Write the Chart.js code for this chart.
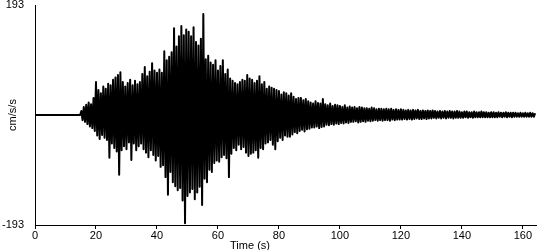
<!DOCTYPE html>
<html>
<head>
<meta charset="utf-8">
<script src="https://cdn.jsdelivr.net/npm/chart.js@4.4.0/dist/chart.umd.min.js"></script>
<style>
html,body{margin:0;padding:0;background:#fff;}
</style>
</head>
<body>
<canvas id="c" width="550" height="250"></canvas>
<script>
// accelerogram: one sample every 0.4 s from 14.8 s
const sampleStart = 14.8;
const sampleStep = 0.4;
const accel = [0,
  7,-9,14,-12,18,-16,22,-20,19,-23,
  30,-28,58,-36,44,-42,38,-35,50,-40,
  46,-44,55,-75,52,-50,62,-58,66,-64,
  70,-105,75,-62,58,-55,50,-60,56,-48,
  62,-79,52,-50,60,-62,54,-55,58,-50,
  72,-60,84,-66,68,-74,76,-62,91,-70,
  78,-80,74,-72,80,-91,74,-88,112,-109,
  96,-140,102,-100,110,-118,152,-125,120,-132,
  138,-128,156,-150,140,-190,150,-142,146,-136,
  138,-130,154,-148,128,-136,122,-126,134,-158,
  177,-112,98,-118,104,-96,92,-100,88,-84,
  96,-80,78,-82,86,-74,96,-70,72,-76,
  80,-109,64,-68,60,-58,56,-62,54,-52,
  58,-60,62,-56,60,-66,70,-72,64,-68,
  62,-66,56,-62,60,-75,68,-58,54,-60,
  58,-50,46,-48,50,-44,48,-52,46,-60,
  44,-46,42,-40,36,-44,40,-36,38,-38,
  34,-38,38,-34,32,-30,28,-32,30,-28,
  30,-26,26,-29,28,-25,24,-24,22,-22,
  20,-22,24,-20,21,-23,20,-21,28,-20,
  19,-17,17,-18,20,-16,16,-17,18,-15,
  17,-16,16,-14,14,-15,17,-13,13,-14,
  15,-12,13,-12,14,-11,12,-13,14,-12,
  13,-11,12,-12,12,-10,11,-11,13,-10,
  12,-9,10,-10,11,-9,11,-10,10,-9,
  11,-9,10,-10,11,-8,9,-9,10,-8,
  9,-8,10,-8,9,-7,8,-8,9,-7,
  8,-8,9,-7,8,-6,9,-7,7,-7,
  8,-6,7,-7,8,-6,7,-6,8,-5,
  7,-6,6,-5,7,-6,6,-5,7,-6,
  6,-5,7,-5,6,-6,6,-5,7,-5,
  6,-5,5,-5,6,-4,6,-5,5,-4,
  5,-5,6,-4,5,-4,5,-4,6,-4,
  5,-4,5,-4,4,-4,5,-4,5,-4,
  4,-4,5,-3,4,-4,4,-3,5,-4,
  4,-3,4,-4,4,-3,4,-3,3,-3,
  4,-3,3,-3,4,-3,3,-3,4,-3,
  3,-3,3
];
const timeTicks = [0,20,40,60,80,100,120,140,160];
const accelTicks = [-193,193];
const timeMax = 164.3;
const xAxisTitle = 'Time (s)';
const yAxisTitle = 'cm/s/s';

const points = [{x:0,y:0}].concat(accel.map((v,i)=>({x:sampleStart+i*sampleStep,y:v})));

Chart.defaults.font.family = '"Liberation Sans", Arial, sans-serif';
Chart.defaults.font.size = 11;
Chart.defaults.color = '#000';

const xTitle = {
  id:'xTitle',
  afterDraw(chart){
    const ctx = chart.ctx;
    ctx.save();
    ctx.font = '11px "Liberation Sans", Arial, sans-serif';
    ctx.fillStyle = '#000';
    ctx.textAlign = 'center';
    ctx.textBaseline = 'top';
    ctx.fillText(xAxisTitle, 250, 240);
    ctx.restore();
  }
};

new Chart(document.getElementById('c'),{
  type:'line',
  data:{datasets:[{data:points,borderColor:'#000',backgroundColor:'#000',borderWidth:2,
    borderJoinStyle:'round',pointRadius:0,tension:0,fill:'origin'}]},
  options:{
    responsive:false,animation:false,
    layout:{padding:{top:5,right:14,left:0,bottom:0}},
    plugins:{legend:{display:false},tooltip:{enabled:false}},
    scales:{
      x:{type:'linear',min:0,max:timeMax,
        afterBuildTicks:s=>{s.ticks=timeTicks.map(v=>({value:v}));},
        afterFit:s=>{s.height=25;},
        grid:{drawOnChartArea:false,drawTicks:true,tickLength:4,color:'#000'},
        border:{color:'#000'},
        ticks:{padding:0,maxRotation:0,autoSkip:false}},
      y:{min:-193,max:193,
        afterBuildTicks:s=>{s.ticks=accelTicks.map(v=>({value:v}));},
        afterFit:s=>{s.width=35;s.paddingTop=0;s.paddingBottom=0;},
        grid:{display:false,drawTicks:false},
        border:{color:'#000'},
        ticks:{padding:11},
        title:{display:true,text:yAxisTitle,padding:{top:6,bottom:0}}}
    }
  },
  plugins:[xTitle]
});
</script>
</body>
</html>
